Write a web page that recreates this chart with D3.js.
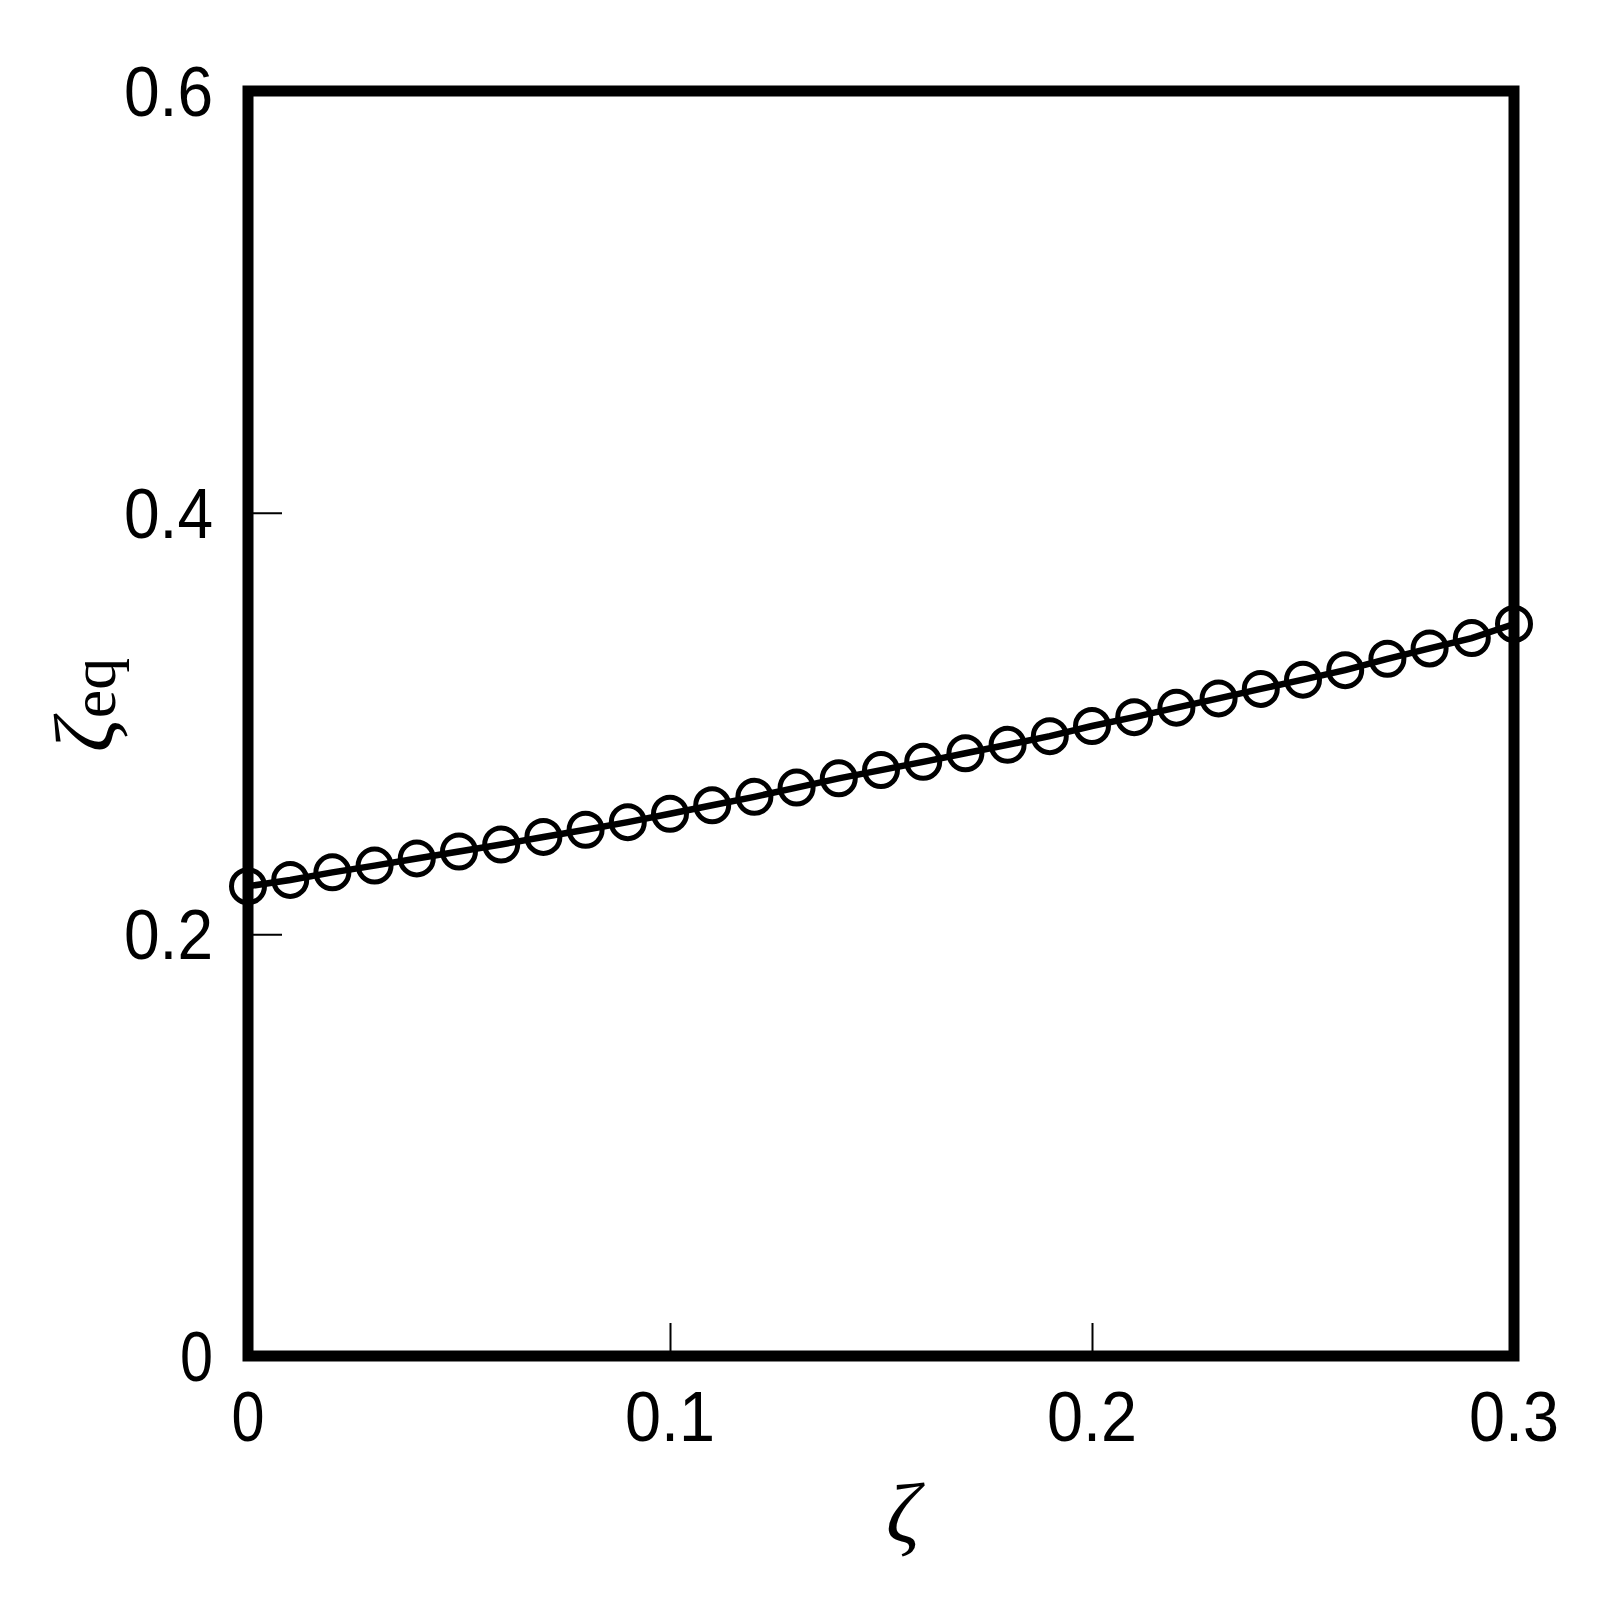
<!DOCTYPE html>
<html>
<head>
<meta charset="utf-8">
<script src="https://cdn.jsdelivr.net/npm/d3@7/dist/d3.min.js"></script>
<style>
  html, body { margin: 0; padding: 0; background: #fff; }
  svg { display: block; }
</style>
</head>
<body>
<script>
// ---- data ----
const zeta = [0, 0.01, 0.02, 0.03, 0.04, 0.05, 0.06, 0.07, 0.08, 0.09, 0.10,
              0.11, 0.12, 0.13, 0.14, 0.15, 0.16, 0.17, 0.18, 0.19, 0.20,
              0.21, 0.22, 0.23, 0.24, 0.25, 0.26, 0.27, 0.28, 0.29, 0.30];
const zetaEq = [0.2228, 0.2258, 0.2294, 0.2326, 0.2360, 0.2393, 0.2426, 0.2462, 0.2496, 0.2532, 0.2572,
                0.2612, 0.2652, 0.2696, 0.2740, 0.2779, 0.2818, 0.2859, 0.2899, 0.2940, 0.2988,
                0.3030, 0.3075, 0.3119, 0.3164, 0.3208, 0.3253, 0.3307, 0.3356, 0.3405, 0.3472];
const xTicks = [0, 0.1, 0.2, 0.3];
const xTickLabels = ["0", "0.1", "0.2", "0.3"];
const yTicks = [0, 0.2, 0.4, 0.6];
const yTickLabels = ["0", "0.2", "0.4", "0.6"];

// ---- layout ----
const W = 1608, H = 1602;
const L = 248, R = 1514, T = 91, B = 1356;

const svg = d3.select("body").append("svg").attr("width", W).attr("height", H);

const x = d3.scaleLinear().domain([0, 0.3]).range([L, R]);
const y = d3.scaleLinear().domain([0, 0.6]).range([B, T]);

// inward ticks
const xAxis = d3.axisBottom(x).tickValues(xTicks).tickSizeInner(-33).tickSizeOuter(0).tickFormat("");
const yAxis = d3.axisLeft(y).tickValues(yTicks).tickSizeInner(-34).tickSizeOuter(0).tickFormat("");

const gx = svg.append("g").attr("transform", `translate(0,${B})`).call(xAxis);
const gy = svg.append("g").attr("transform", `translate(${L},0)`).call(yAxis);
[gx, gy].forEach(g => {
  g.select(".domain").remove();
  g.selectAll(".tick line").attr("stroke", "#000").attr("stroke-width", 2);
});

// frame
svg.append("rect")
  .attr("x", L).attr("y", T).attr("width", R - L).attr("height", B - T)
  .attr("fill", "none").attr("stroke", "#000").attr("stroke-width", 11);

// tick labels
const labelFont = "'Liberation Sans Narrow', 'Liberation Sans', Arial, sans-serif";
svg.append("g").selectAll("text").data(xTicks).join("text")
  .attr("x", d => x(d)).attr("y", 1441)
  .attr("text-anchor", "middle")
  .attr("font-family", labelFont).attr("font-size", 70)
  .attr("textLength", (d, i) => xTickLabels[i].length > 1 ? 90 : 33)
  .attr("lengthAdjust", "spacingAndGlyphs")
  .text((d, i) => xTickLabels[i]);

svg.append("g").selectAll("text").data(yTicks).join("text")
  .attr("x", 213).attr("y", d => y(d) + 25)
  .attr("text-anchor", "end")
  .attr("font-family", labelFont).attr("font-size", 70)
  .attr("textLength", (d, i) => yTickLabels[i].length > 1 ? 89 : 33)
  .attr("lengthAdjust", "spacingAndGlyphs")
  .text((d, i) => yTickLabels[i]);

// data line + markers
const line = d3.line().x((d, i) => x(zeta[i])).y(d => y(d));
svg.append("path").datum(zetaEq)
  .attr("d", line).attr("fill", "none").attr("stroke", "#000").attr("stroke-width", 6.5);

svg.append("g").selectAll("circle").data(zetaEq).join("circle")
  .attr("cx", (d, i) => x(zeta[i])).attr("cy", d => y(d))
  .attr("r", 16.5).attr("fill", "none").attr("stroke", "#000").attr("stroke-width", 5);

// axis titles
const serif = "'Liberation Serif', 'Times New Roman', serif";
svg.append("text")
  .attr("x", 903).attr("y", 1542)
  .attr("text-anchor", "middle")
  .attr("font-family", serif).attr("font-style", "italic").attr("font-size", 84)
  .text("ζ");

const yt = svg.append("text")
  .attr("transform", "translate(113,705) rotate(-90)")
  .attr("text-anchor", "middle")
  .attr("font-family", serif).attr("font-size", 84);
yt.append("tspan").attr("font-style", "italic").text("ζ");
yt.append("tspan").attr("font-size", 64).attr("dy", 2).text("eq");
</script>
</body>
</html>
